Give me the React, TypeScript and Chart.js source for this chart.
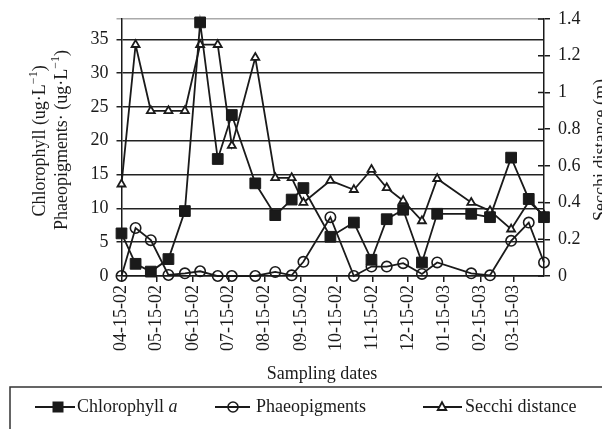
import { useEffect, useRef } from "react";
import { Chart, registerables } from "chart.js";

Chart.register(...registerables);

// Sampling campaign, April 2002 – April 2003
const sampleDates = [
  "2002-04-15", "2002-04-27", "2002-05-10", "2002-05-25", "2002-06-08", "2002-06-21",
  "2002-07-06", "2002-07-18", "2002-08-07", "2002-08-24", "2002-09-07", "2002-09-17",
  "2002-10-10", "2002-10-30", "2002-11-14", "2002-11-27", "2002-12-11", "2002-12-27",
  "2003-01-09", "2003-02-07", "2003-02-23", "2003-03-13", "2003-03-28", "2003-04-10",
];

// Chlorophyll a (ug/L)
const chlorophyll = [
  6.3, 1.8, 0.65, 2.5, 9.6, 37.5, 17.3, 23.8, 13.7, 9.0, 11.3, 13.0,
  5.8, 7.9, 2.4, 8.4, 9.8, 2.0, 9.2, 9.2, 8.7, 17.5, 11.4, 8.7,
];

// Phaeopigments (ug/L)
const phaeopigments = [
  0, 7.1, 5.3, 0.15, 0.4, 0.7, 0, 0, 0, 0.6, 0.1, 2.1,
  8.7, 0, 1.4, 1.4, 1.9, 0.3, 2.0, 0.4, 0.1, 5.2, 7.9, 2.0,
];

// Secchi disc depth (m)
const secchi = [
  0.5, 1.26, 0.9, 0.9, 0.9, 1.26, 1.26, 0.71, 1.19, 0.535, 0.535, 0.4,
  0.52, 0.47, 0.58, 0.48, 0.41, 0.3, 0.53, 0.4, 0.355, 0.255, 0.405, 0.33,
];

const monthTickDates = [
  "2002-04-15", "2002-05-15", "2002-06-15", "2002-07-15", "2002-08-15", "2002-09-15",
  "2002-10-15", "2002-11-15", "2002-12-15", "2003-01-15", "2003-02-15", "2003-03-15",
];
const monthTickLabels = [
  "04-15-02", "05-15-02", "06-15-02", "07-15-02", "08-15-02", "09-15-02",
  "10-15-02", "11-15-02", "12-15-02", "01-15-03", "02-15-03", "03-15-03",
];

const leftTicks = [0, 5, 10, 15, 20, 25, 30, 35];
const leftMax = 38;
const rightTicks = [0, 0.2, 0.4, 0.6, 0.8, 1, 1.2, 1.4];

const START = Date.UTC(2002, 3, 15);
const dayOf = (iso: string) => {
  const [y, m, d] = iso.split("-").map(Number);
  return Math.round((Date.UTC(y, m - 1, d) - START) / 86400000);
};
const xEnd = dayOf("2003-04-10");

const FONT = '"Liberation Serif", "Times New Roman", serif';
const INK = "#1a1a1a";

const series = (vals: number[]) => vals.map((v, i) => ({ x: dayOf(sampleDates[i]), y: v }));

type Part = { t: string; sup?: boolean; italic?: boolean };

function drawParts(ctx: CanvasRenderingContext2D, parts: Part[], size: number, startX: number, y: number) {
  let x = startX;
  for (const p of parts) {
    const fs = p.sup ? Math.round(size * 0.66) : size;
    ctx.font = `${p.italic ? "italic " : ""}${fs}px ${FONT}`;
    ctx.fillText(p.t, x, p.sup ? y - size * 0.34 : y);
    x += ctx.measureText(p.t).width;
  }
}

function partsWidth(ctx: CanvasRenderingContext2D, parts: Part[], size: number) {
  let w = 0;
  for (const p of parts) {
    const fs = p.sup ? Math.round(size * 0.66) : size;
    ctx.font = `${p.italic ? "italic " : ""}${fs}px ${FONT}`;
    w += ctx.measureText(p.t).width;
  }
  return w;
}

function drawRotated(ctx: CanvasRenderingContext2D, parts: Part[], size: number, cx: number, cy: number) {
  ctx.save();
  ctx.translate(cx, cy);
  ctx.rotate(-Math.PI / 2);
  ctx.textBaseline = "middle";
  ctx.textAlign = "left";
  const w = partsWidth(ctx, parts, size);
  drawParts(ctx, parts, size, -w / 2, 0);
  ctx.restore();
}

const decorations = {
  id: "decorations",
  afterDraw(chart: any) {
    const ctx: CanvasRenderingContext2D = chart.ctx;
    const area = chart.chartArea;
    ctx.save();
    ctx.fillStyle = INK;
    ctx.strokeStyle = INK;

    // inner halves of the right-axis tick marks
    const y1 = chart.scales.y1;
    ctx.lineWidth = 1.5;
    ctx.beginPath();
    for (const v of rightTicks) {
      const py = y1.getPixelForValue(v);
      ctx.moveTo(area.right - 6, py);
      ctx.lineTo(area.right, py);
    }
    ctx.stroke();

    // axis titles
    drawRotated(ctx, [{ t: "Chlorophyll (ug·L" }, { t: "−1", sup: true }, { t: ")" }], 18, 40, 141);
    drawRotated(ctx, [{ t: "Phaeopigments· (ug·L" }, { t: "−1", sup: true }, { t: ")" }], 18, 62, 140);
    drawRotated(ctx, [{ t: "Secchi distance (m)" }], 18, 601, 150);

    ctx.font = `18px ${FONT}`;
    ctx.textAlign = "center";
    ctx.textBaseline = "middle";
    ctx.fillText("Sampling dates", 322, 374);

    // legend frame
    ctx.lineWidth = 1.5;
    ctx.strokeStyle = "#333";
    ctx.beginPath();
    ctx.moveTo(10, 460);
    ctx.lineTo(10, 387);
    ctx.lineTo(640, 387);
    ctx.stroke();

    const ly = 407;
    ctx.strokeStyle = INK;
    ctx.lineWidth = 1.8;
    const seg = (x0: number, x1: number) => {
      ctx.beginPath();
      ctx.moveTo(x0, ly);
      ctx.lineTo(x1, ly);
      ctx.stroke();
    };
    // Chlorophyll a
    seg(35, 75);
    ctx.fillStyle = INK;
    ctx.fillRect(58 - 5.5, ly - 5.5, 11, 11);
    // Phaeopigments
    seg(215, 250);
    ctx.lineWidth = 1.6;
    ctx.beginPath();
    ctx.arc(233, ly, 5, 0, Math.PI * 2);
    ctx.stroke();
    // Secchi distance
    ctx.lineWidth = 1.8;
    seg(423, 462);
    ctx.beginPath();
    ctx.moveTo(442, ly - 4.8);
    ctx.lineTo(446.3, ly + 3);
    ctx.lineTo(437.7, ly + 3);
    ctx.closePath();
    ctx.fillStyle = "#fff";
    ctx.fill();
    ctx.stroke();

    ctx.fillStyle = INK;
    ctx.textAlign = "left";
    ctx.textBaseline = "middle";
    drawParts(ctx, [{ t: "Chlorophyll " }, { t: "a", italic: true }], 18, 77, ly);
    drawParts(ctx, [{ t: "Phaeopigments" }], 18, 256, ly);
    drawParts(ctx, [{ t: "Secchi distance" }], 18, 465, ly);

    ctx.restore();
  },
};

export default function App() {
  const canvasRef = useRef<HTMLCanvasElement | null>(null);

  useEffect(() => {
    const canvas = canvasRef.current;
    if (!canvas) return;

    const chart = new Chart(canvas, {
      type: "line",
      data: {
        datasets: [
          {
            label: "Chlorophyll a",
            data: series(chlorophyll),
            yAxisID: "y",
            borderColor: INK,
            backgroundColor: INK,
            borderWidth: 1.8,
            pointStyle: "rect",
            pointRadius: 7.6,
            pointBorderWidth: 1,
            pointBackgroundColor: INK,
            pointBorderColor: INK,
            tension: 0,
            clip: false,
          },
          {
            label: "Phaeopigments",
            data: series(phaeopigments),
            yAxisID: "y",
            borderColor: INK,
            borderWidth: 1.8,
            pointStyle: "circle",
            pointRadius: 5.2,
            pointBorderWidth: 1.6,
            pointBackgroundColor: "rgba(0,0,0,0)",
            pointBorderColor: INK,
            tension: 0,
            clip: false,
          },
          {
            label: "Secchi distance",
            data: series(secchi),
            yAxisID: "y1",
            borderColor: INK,
            borderWidth: 1.8,
            pointStyle: "triangle",
            pointRadius: 4.6,
            pointBorderWidth: 1.8,
            pointBackgroundColor: "#fff",
            pointBorderColor: INK,
            tension: 0,
            clip: false,
          },
        ],
      },
      options: {
        responsive: false,
        animation: false,
        events: [],
        layout: { padding: { top: 19, left: 0, right: 0, bottom: 0 } },
        plugins: {
          legend: { display: false },
          tooltip: { enabled: false },
        },
        scales: {
          x: {
            type: "linear",
            min: 0,
            max: xEnd,
            afterBuildTicks: (scale: any) => {
              scale.ticks = monthTickDates.map((d) => ({ value: dayOf(d) }));
            },
            afterFit: (scale: any) => {
              scale.height = 164;
            },
            ticks: {
              autoSkip: false,
              maxRotation: 90,
              minRotation: 90,
              padding: 3,
              color: INK,
              font: { family: FONT, size: 18 },
              callback: (_v: any, i: number) => monthTickLabels[i],
            },
            grid: {
              drawOnChartArea: false,
              drawTicks: true,
              tickLength: 6,
              color: INK,
              lineWidth: 1.5,
            },
            border: { display: true, color: INK, width: 1.5 },
          },
          y: {
            type: "linear",
            position: "left",
            min: 0,
            max: leftMax,
            afterBuildTicks: (scale: any) => {
              scale.ticks = [...leftTicks, leftMax].map((v) => ({ value: v }));
            },
            afterFit: (scale: any) => {
              scale.width = 121.5;
            },
            ticks: {
              padding: 8,
              color: INK,
              font: { family: FONT, size: 18 },
              callback: (v: any) => (v === leftMax ? "" : String(v)),
            },
            grid: {
              drawTicks: true,
              tickLength: 5,
              color: (c: any) => (c.tick && c.tick.value === leftMax ? "#aaa" : "#222"),
              lineWidth: 1.5,
            },
            border: { display: true, color: INK, width: 1.5 },
          },
          y1: {
            type: "linear",
            position: "right",
            min: 0,
            max: 1.4,
            afterBuildTicks: (scale: any) => {
              scale.ticks = rightTicks.map((v) => ({ value: v }));
            },
            afterFit: (scale: any) => {
              scale.width = 76;
            },
            ticks: {
              padding: 8,
              color: INK,
              font: { family: FONT, size: 18 },
              callback: (v: any) => (v === 0 ? "0" : v === 1 ? "1" : Number(v).toFixed(1)),
            },
            grid: {
              drawOnChartArea: false,
              drawTicks: true,
              tickLength: 6,
              color: INK,
              lineWidth: 1.5,
            },
            border: { display: true, color: INK, width: 1.5 },
          },
        },
      } as any,
      plugins: [decorations],
    });

    return () => chart.destroy();
  }, []);

  return (
    <div
      style={{
        position: "fixed",
        left: 0,
        top: 0,
        width: 602,
        height: 429,
        overflow: "hidden",
        background: "#fff",
      }}
    >
      <canvas ref={canvasRef} width={620} height={440} style={{ width: 620, height: 440, display: "block" }} />
    </div>
  );
}
